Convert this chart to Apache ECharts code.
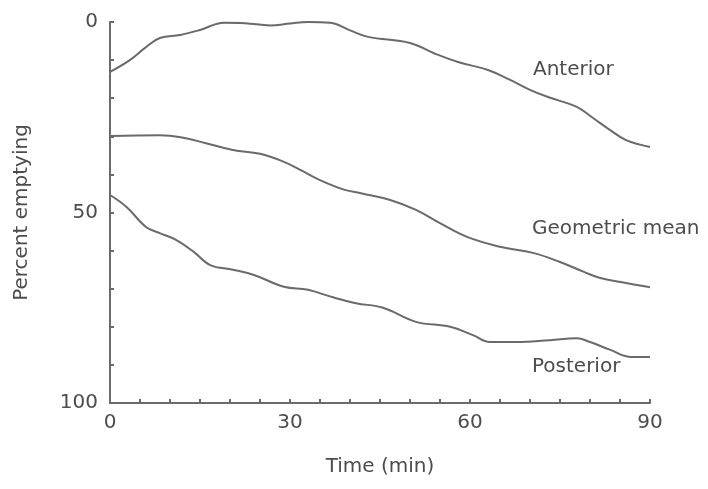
<!DOCTYPE html>
<html>
<head>
<meta charset="utf-8">
<script src="https://cdn.jsdelivr.net/npm/echarts@6/dist/echarts.min.js"></script>
<style>
  html, body { margin: 0; padding: 0; background: #fff; }
  #chart { width: 708px; height: 489px; }
</style>
</head>
<body>
<div id="chart"></div>
<script>
// Gastric emptying over time: percent emptying (inverted axis) vs minutes
const anteriorTime  = [0, 3.3, 6, 8.3, 11.7, 15, 19, 22.5, 26.7, 30, 33, 36.7, 40, 43, 50, 54, 58, 63, 66.7, 70, 73, 77.8, 80.5, 83.3, 86, 90];
const anteriorValue = [13.1, 10, 6.6, 4.2, 3.4, 2.1, 0.2, 0.3, 0.9, 0.4, 0, 0.2, 2.2, 3.9, 5.5, 8.2, 10.5, 12.6, 15.2, 17.8, 19.7, 22.3, 25.2, 28.3, 31, 32.8];

const geoTime  = [0, 8.3, 12, 16, 20.5, 25, 29, 31.7, 35, 39, 42, 46.7, 51, 55, 59.5, 65, 70.5, 75, 79, 81.7, 86, 90];
const geoValue = [29.9, 29.7, 30.3, 31.8, 33.6, 34.6, 36.7, 38.8, 41.5, 44, 45, 46.7, 49.3, 52.8, 56.4, 59, 60.6, 63, 65.6, 67.2, 68.5, 69.6];

const postTime  = [0, 2.8, 6, 8.3, 11, 14, 16.7, 20.5, 24, 29, 33, 37, 41, 45.5, 51, 56.7, 60.5, 63.3, 67.8, 73.3, 77.8, 80, 83.3, 86.7, 90];
const postValue = [45.4, 48.6, 53.8, 55.4, 57.2, 60.4, 63.8, 65, 66.4, 69.5, 70.3, 72.2, 73.8, 75, 78.7, 80, 82.2, 84, 84, 83.5, 83, 84, 86, 87.9, 87.9];

const seriesNames = ['Anterior', 'Geometric mean', 'Posterior'];
const xTickLabels = [0, 30, 60, 90];
const yTickLabels = [0, 50, 100];

const zip = (xs, ys) => xs.map((x, i) => [x, ys[i]]);

const ink = '#4d4d4d';
const lineInk = '#6a6a6a';
const font = 'DejaVu Sans';

const chart = echarts.init(document.getElementById('chart'), null, { renderer: 'canvas' });

const lineStyle = { color: lineInk, width: 2 };

chart.setOption({
  backgroundColor: '#ffffff',
  animation: false,
  grid: { left: 110, right: 58, top: 22, bottom: 86 },
  xAxis: {
    type: 'value',
    position: 'bottom',
    min: 0, max: 90, interval: 5,
    name: 'Time (min)',
    nameLocation: 'middle',
    nameGap: 54,
    nameTextStyle: { color: ink, fontFamily: font, fontSize: 20 },
    axisLine: { onZero: false, lineStyle: { color: lineInk, width: 2 } },
    axisTick: { inside: true, length: 4, lineStyle: { color: lineInk, width: 2 } },
    axisLabel: {
      color: ink, fontFamily: font, fontSize: 20, margin: 10,
      formatter: v => (xTickLabels.includes(v) ? String(v) : '')
    },
    splitLine: { show: false }
  },
  yAxis: {
    type: 'value',
    inverse: true,
    min: 0, max: 100, interval: 10,
    name: 'Percent emptying',
    nameLocation: 'middle',
    nameGap: 78,
    nameRotate: 90,
    nameTextStyle: { color: ink, fontFamily: font, fontSize: 20 },
    axisLine: { show: true, onZero: false, lineStyle: { color: lineInk, width: 2 } },
    axisTick: { show: true, inside: true, length: 4, lineStyle: { color: lineInk, width: 2 } },
    axisLabel: {
      color: ink, fontFamily: font, fontSize: 20, margin: 12,
      formatter: v => (yTickLabels.includes(v) ? String(v) : '')
    },
    splitLine: { show: false }
  },
  series: [
    { name: seriesNames[0], type: 'line', smooth: 0.4, symbol: 'none', lineStyle, data: zip(anteriorTime, anteriorValue) },
    { name: seriesNames[1], type: 'line', smooth: 0.4, symbol: 'none', lineStyle, data: zip(geoTime, geoValue) },
    { name: seriesNames[2], type: 'line', smooth: 0.4, symbol: 'none', lineStyle, data: zip(postTime, postValue) }
  ],
  graphic: [
    { type: 'text', left: 533, top: 60, style: { text: seriesNames[0], fill: ink, font: '20px "DejaVu Sans"' } },
    { type: 'text', left: 532, top: 219, style: { text: seriesNames[1], fill: ink, font: '20px "DejaVu Sans"' } },
    { type: 'text', left: 532, top: 357, style: { text: seriesNames[2], fill: ink, font: '20px "DejaVu Sans"' } }
  ]
});
</script>
</body>
</html>
